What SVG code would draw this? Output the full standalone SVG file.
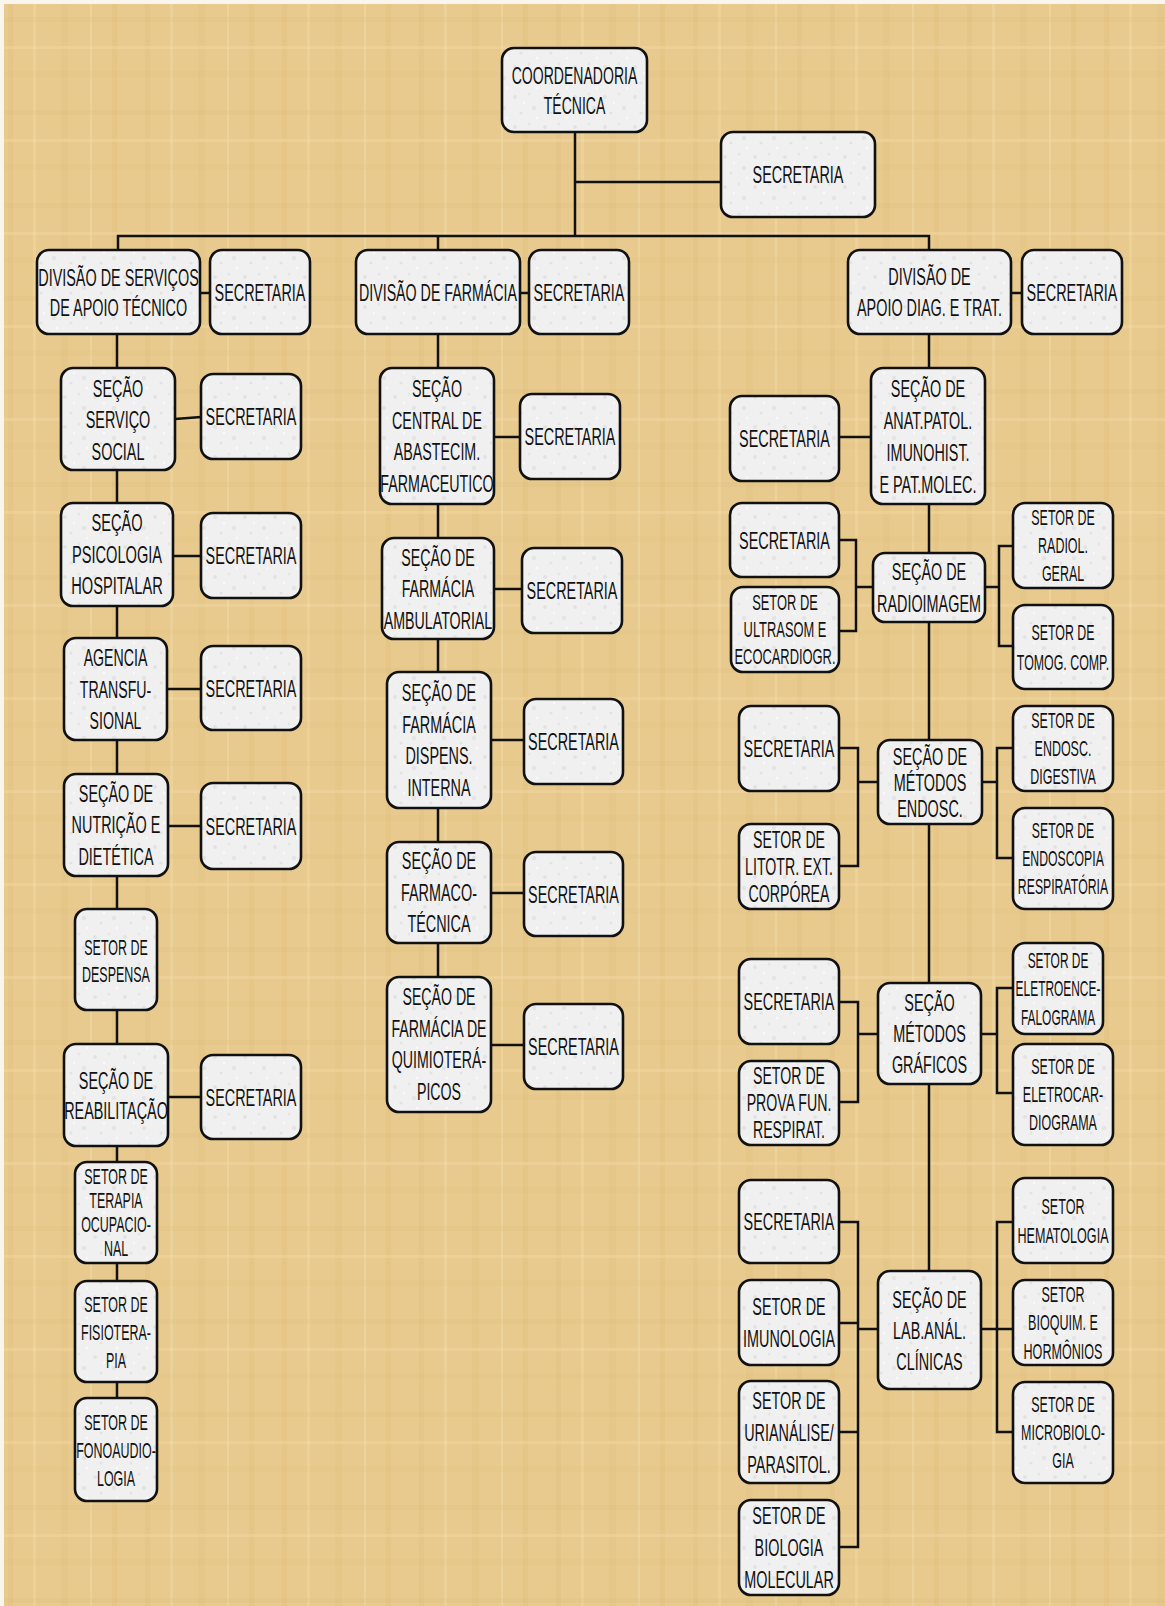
<svg xmlns="http://www.w3.org/2000/svg" width="1165" height="1606" viewBox="0 0 1165 1606">
<defs>
<pattern id="paper" x="0" y="0" width="137" height="93" patternUnits="userSpaceOnUse">
<rect width="137" height="93" fill="#E8CA8E"/>
<rect x="8" y="0" width="5" height="93" fill="#D8B470" opacity="0.22"/>
<rect x="33" y="0" width="3" height="93" fill="#F2DDA9" opacity="0.4"/>
<rect x="61" y="0" width="7" height="93" fill="#DDB977" opacity="0.2"/>
<rect x="90" y="0" width="2" height="93" fill="#F3DFAE" opacity="0.4"/>
<rect x="112" y="0" width="5" height="93" fill="#D6B16C" opacity="0.18"/>
<rect x="0" y="17" width="137" height="5" fill="#D9B673" opacity="0.18"/>
<rect x="0" y="46" width="137" height="3" fill="#F2DCA8" opacity="0.35"/>
<rect x="0" y="71" width="137" height="6" fill="#DBB874" opacity="0.15"/>
</pattern>
<pattern id="marble" x="0" y="0" width="30" height="30" patternUnits="userSpaceOnUse">
<rect width="30" height="30" fill="#F0F0F0"/>
<circle cx="5" cy="7" r="2" fill="#DADADA" opacity="0.6"/>
<circle cx="19" cy="4" r="1.5" fill="#DDDDDD" opacity="0.6"/>
<circle cx="24" cy="18" r="2.2" fill="#D8D8D8" opacity="0.5"/>
<circle cx="11" cy="23" r="1.6" fill="#DBDBDB" opacity="0.6"/>
<circle cx="14" cy="13" r="1.2" fill="#FAFAFA"/>
<circle cx="27" cy="28" r="1.2" fill="#FAFAFA"/>
</pattern>
</defs>
<style>
.box{fill:url(#marble);stroke:#111;stroke-width:2.6}
.t{font-family:"Liberation Sans",Arial,sans-serif;font-size:24px;fill:#111;text-anchor:middle}
.s{font-size:21.5px}
#connectors line,#connectors path{stroke:#111;stroke-width:2.5;fill:none}
</style>
<rect x="0" y="0" width="1165" height="1606" fill="#FAF6EE"/>
<rect x="4" y="4" width="1161" height="1602" fill="url(#paper)"/>

<g id="connectors">
<line x1="575" y1="132" x2="575" y2="236"/>
<line x1="575" y1="182" x2="721" y2="182"/>
<path d="M118 250 V236 H929 V250"/>
<line x1="438" y1="236" x2="438" y2="250"/>
<line x1="200" y1="293" x2="210" y2="293"/>
<line x1="520" y1="293" x2="529" y2="293"/>
<line x1="1011" y1="293" x2="1022" y2="293"/>
<line x1="117" y1="334" x2="117" y2="1398"/>
<line x1="175" y1="419" x2="201" y2="417"/>
<line x1="173" y1="556" x2="201" y2="556"/>
<line x1="167" y1="689" x2="201" y2="689"/>
<line x1="168" y1="826" x2="201" y2="826"/>
<line x1="168" y1="1097" x2="201" y2="1097"/>
<line x1="438" y1="334" x2="438" y2="977"/>
<line x1="494" y1="437" x2="520" y2="437"/>
<line x1="494" y1="589" x2="522" y2="589"/>
<line x1="491" y1="740" x2="524" y2="740"/>
<line x1="491" y1="893" x2="524" y2="893"/>
<line x1="491" y1="1045" x2="524" y2="1045"/>
<line x1="929" y1="334" x2="929" y2="1271"/>
<line x1="839" y1="437" x2="871" y2="437"/>
<path d="M839 540 H856 V631 H839"/>
<line x1="856" y1="587" x2="873" y2="587"/>
<line x1="985" y1="587" x2="999" y2="587"/>
<path d="M1013 546 H999 V646 H1013"/>
<path d="M839 748 H858 V866 H839"/>
<line x1="858" y1="782" x2="878" y2="782"/>
<line x1="982" y1="782" x2="997" y2="782"/>
<path d="M1013 748 H997 V858 H1013"/>
<path d="M839 1002 H858 V1102 H839"/>
<line x1="858" y1="1034" x2="878" y2="1034"/>
<line x1="981" y1="1034" x2="997" y2="1034"/>
<path d="M1013 988 H997 V1093 H1013"/>
<path d="M839 1222 H858 V1547 H839"/>
<line x1="839" y1="1323" x2="858" y2="1323"/>
<line x1="839" y1="1432" x2="858" y2="1432"/>
<line x1="858" y1="1329" x2="878" y2="1329"/>
<line x1="981" y1="1329" x2="997" y2="1329"/>
<path d="M1013 1222 H997 V1432 H1013"/>
<line x1="997" y1="1329" x2="1013" y2="1329"/>
</g>

<g id="coord"><rect class="box" x="502" y="48" width="145" height="84" rx="12"/><g transform="translate(574.5 0) scale(0.585 1)"><text class="t"><tspan x="0" y="84">COORDENADORIA</tspan><tspan x="0" y="114">TÉCNICA</tspan></text></g></g>
<g id="sec-coord"><rect class="box" x="721" y="132" width="154" height="85" rx="12"/><g transform="translate(798 0) scale(0.6 1)"><text class="t"><tspan x="0" y="183.5">SECRETARIA</tspan></text></g></g>

<g id="div-apoio"><rect class="box" x="37" y="250" width="163" height="84" rx="12"/><g transform="translate(118.5 0) scale(0.6 1)"><text class="t"><tspan x="0" y="286">DIVISÃO DE SERVIÇOS</tspan><tspan x="0" y="316">DE APOIO TÉCNICO</tspan></text></g></g>
<g id="sec-div-apoio"><rect class="box" x="210" y="250" width="100" height="84" rx="12"/><g transform="translate(260 0) scale(0.6 1)"><text class="t"><tspan x="0" y="301">SECRETARIA</tspan></text></g></g>
<g id="div-farm"><rect class="box" x="356" y="250" width="164" height="84" rx="12"/><g transform="translate(438 0) scale(0.593 1)"><text class="t"><tspan x="0" y="301">DIVISÃO DE FARMÁCIA</tspan></text></g></g>
<g id="sec-div-farm"><rect class="box" x="529" y="250" width="100" height="84" rx="12"/><g transform="translate(579 0) scale(0.6 1)"><text class="t"><tspan x="0" y="301">SECRETARIA</tspan></text></g></g>
<g id="div-diag"><rect class="box" x="848" y="250" width="163" height="84" rx="12"/><g transform="translate(929.5 0) scale(0.6 1)"><text class="t"><tspan x="0" y="285.5">DIVISÃO DE</tspan><tspan x="0" y="316.5">APOIO DIAG. E TRAT.</tspan></text></g></g>
<g id="sec-div-diag"><rect class="box" x="1022" y="250" width="100" height="84" rx="12"/><g transform="translate(1072 0) scale(0.6 1)"><text class="t"><tspan x="0" y="301">SECRETARIA</tspan></text></g></g>

<g id="sec-servico-social"><rect class="box" x="61" y="368" width="114" height="102" rx="12"/><g transform="translate(118 0) scale(0.6 1)"><text class="t"><tspan x="0" y="397">SEÇÃO</tspan><tspan x="0" y="428.5">SERVIÇO</tspan><tspan x="0" y="460">SOCIAL</tspan></text></g></g>
<g id="secr-servico-social"><rect class="box" x="201" y="374" width="100" height="85" rx="12"/><g transform="translate(251 0) scale(0.6 1)"><text class="t"><tspan x="0" y="425.5">SECRETARIA</tspan></text></g></g>
<g id="sec-psicologia"><rect class="box" x="61" y="503" width="112" height="103" rx="12"/><g transform="translate(117 0) scale(0.61 1)"><text class="t"><tspan x="0" y="531.5">SEÇÃO</tspan><tspan x="0" y="563">PSICOLOGIA</tspan><tspan x="0" y="594.5">HOSPITALAR</tspan></text></g></g>
<g id="secr-psicologia"><rect class="box" x="201" y="513" width="100" height="85" rx="12"/><g transform="translate(251 0) scale(0.6 1)"><text class="t"><tspan x="0" y="564.5">SECRETARIA</tspan></text></g></g>
<g id="agencia"><rect class="box" x="64" y="638" width="103" height="102" rx="12"/><g transform="translate(115.5 0) scale(0.59 1)"><text class="t"><tspan x="0" y="666.5">AGENCIA</tspan><tspan x="0" y="698">TRANSFU-</tspan><tspan x="0" y="729.5">SIONAL</tspan></text></g></g>
<g id="secr-agencia"><rect class="box" x="201" y="646" width="100" height="84" rx="12"/><g transform="translate(251 0) scale(0.6 1)"><text class="t"><tspan x="0" y="697">SECRETARIA</tspan></text></g></g>
<g id="sec-nutricao"><rect class="box" x="64" y="774" width="104" height="102" rx="12"/><g transform="translate(116 0) scale(0.6 1)"><text class="t"><tspan x="0" y="802">SEÇÃO DE</tspan><tspan x="0" y="833.5">NUTRIÇÃO E</tspan><tspan x="0" y="865">DIETÉTICA</tspan></text></g></g>
<g id="secr-nutricao"><rect class="box" x="201" y="783" width="100" height="86" rx="12"/><g transform="translate(251 0) scale(0.6 1)"><text class="t"><tspan x="0" y="835">SECRETARIA</tspan></text></g></g>
<g id="set-despensa"><rect class="box" x="75" y="909" width="82" height="101" rx="12"/><g transform="translate(116 0) scale(0.58 1)"><text class="t s"><tspan x="0" y="955">SETOR DE</tspan><tspan x="0" y="982">DESPENSA</tspan></text></g></g>
<g id="sec-reabilitacao"><rect class="box" x="64" y="1044" width="104" height="102" rx="12"/><g transform="translate(116 0) scale(0.6 1)"><text class="t"><tspan x="0" y="1089">SEÇÃO DE</tspan><tspan x="0" y="1119">REABILITAÇÃO</tspan></text></g></g>
<g id="secr-reabilitacao"><rect class="box" x="201" y="1055" width="100" height="84" rx="12"/><g transform="translate(251 0) scale(0.6 1)"><text class="t"><tspan x="0" y="1106">SECRETARIA</tspan></text></g></g>
<g id="set-terapia"><rect class="box" x="75" y="1162" width="82" height="101" rx="12"/><g transform="translate(116 0) scale(0.58 1)"><text class="t s"><tspan x="0" y="1184.5">SETOR DE</tspan><tspan x="0" y="1208.5">TERAPIA</tspan><tspan x="0" y="1232.5">OCUPACIO-</tspan><tspan x="0" y="1256.5">NAL</tspan></text></g></g>
<g id="set-fisioterapia"><rect class="box" x="75" y="1281" width="82" height="101" rx="12"/><g transform="translate(116 0) scale(0.58 1)"><text class="t s"><tspan x="0" y="1312.5">SETOR DE</tspan><tspan x="0" y="1340.5">FISIOTERA-</tspan><tspan x="0" y="1368.5">PIA</tspan></text></g></g>
<g id="set-fono"><rect class="box" x="75" y="1398" width="82" height="103" rx="12"/><g transform="translate(116 0) scale(0.58 1)"><text class="t s"><tspan x="0" y="1430.5">SETOR DE</tspan><tspan x="0" y="1458.5">FONOAUDIO-</tspan><tspan x="0" y="1486.5">LOGIA</tspan></text></g></g>

<g id="sec-central"><rect class="box" x="380" y="368" width="114" height="136" rx="12"/><g transform="translate(437 0) scale(0.595 1)"><text class="t"><tspan x="0" y="397.5">SEÇÃO</tspan><tspan x="0" y="429">CENTRAL DE</tspan><tspan x="0" y="460.5">ABASTECIM.</tspan><tspan x="0" y="492">FARMACEUTICO</tspan></text></g></g>
<g id="secr-central"><rect class="box" x="520" y="394" width="100" height="85" rx="12"/><g transform="translate(570 0) scale(0.6 1)"><text class="t"><tspan x="0" y="445.5">SECRETARIA</tspan></text></g></g>
<g id="sec-ambulatorial"><rect class="box" x="382" y="538" width="112" height="101" rx="12"/><g transform="translate(438 0) scale(0.593 1)"><text class="t"><tspan x="0" y="566">SEÇÃO DE</tspan><tspan x="0" y="597.5">FARMÁCIA</tspan><tspan x="0" y="629">AMBULATORIAL</tspan></text></g></g>
<g id="secr-ambulatorial"><rect class="box" x="522" y="548" width="100" height="85" rx="12"/><g transform="translate(572 0) scale(0.6 1)"><text class="t"><tspan x="0" y="599.5">SECRETARIA</tspan></text></g></g>
<g id="sec-dispens"><rect class="box" x="387" y="672" width="104" height="136" rx="12"/><g transform="translate(439 0) scale(0.6 1)"><text class="t"><tspan x="0" y="701.5">SEÇÃO DE</tspan><tspan x="0" y="733">FARMÁCIA</tspan><tspan x="0" y="764.5">DISPENS.</tspan><tspan x="0" y="796">INTERNA</tspan></text></g></g>
<g id="secr-dispens"><rect class="box" x="524" y="699" width="99" height="85" rx="12"/><g transform="translate(573.5 0) scale(0.6 1)"><text class="t"><tspan x="0" y="750.5">SECRETARIA</tspan></text></g></g>
<g id="sec-farmacotecnica"><rect class="box" x="387" y="842" width="104" height="101" rx="12"/><g transform="translate(439 0) scale(0.6 1)"><text class="t"><tspan x="0" y="869.5">SEÇÃO DE</tspan><tspan x="0" y="901">FARMACO-</tspan><tspan x="0" y="932.5">TÉCNICA</tspan></text></g></g>
<g id="secr-farmacotecnica"><rect class="box" x="524" y="852" width="99" height="84" rx="12"/><g transform="translate(573.5 0) scale(0.6 1)"><text class="t"><tspan x="0" y="903">SECRETARIA</tspan></text></g></g>
<g id="sec-quimio"><rect class="box" x="387" y="977" width="104" height="135" rx="12"/><g transform="translate(439 0) scale(0.59 1)"><text class="t"><tspan x="0" y="1005.5">SEÇÃO DE</tspan><tspan x="0" y="1037">FARMÁCIA DE</tspan><tspan x="0" y="1068.5">QUIMIOTERÁ-</tspan><tspan x="0" y="1100">PICOS</tspan></text></g></g>
<g id="secr-quimio"><rect class="box" x="524" y="1004" width="99" height="85" rx="12"/><g transform="translate(573.5 0) scale(0.6 1)"><text class="t"><tspan x="0" y="1055.5">SECRETARIA</tspan></text></g></g>

<g id="sec-anatpatol"><rect class="box" x="871" y="368" width="114" height="136" rx="12"/><g transform="translate(928 0) scale(0.6 1)"><text class="t"><tspan x="0" y="397">SEÇÃO DE</tspan><tspan x="0" y="429">ANAT.PATOL.</tspan><tspan x="0" y="461">IMUNOHIST.</tspan><tspan x="0" y="493">E PAT.MOLEC.</tspan></text></g></g>
<g id="secr-anatpatol"><rect class="box" x="730" y="396" width="109" height="85" rx="12"/><g transform="translate(784.5 0) scale(0.6 1)"><text class="t"><tspan x="0" y="447.5">SECRETARIA</tspan></text></g></g>
<g id="sec-radioimagem"><rect class="box" x="873" y="553" width="112" height="69" rx="12"/><g transform="translate(929 0) scale(0.6 1)"><text class="t"><tspan x="0" y="580.5">SEÇÃO DE</tspan><tspan x="0" y="612.5">RADIOIMAGEM</tspan></text></g></g>
<g id="secr-radioimagem"><rect class="box" x="730" y="503" width="109" height="74" rx="12"/><g transform="translate(784.5 0) scale(0.6 1)"><text class="t"><tspan x="0" y="549">SECRETARIA</tspan></text></g></g>
<g id="set-ultrasom"><rect class="box" x="731" y="587" width="108" height="85" rx="12"/><g transform="translate(785 0) scale(0.6 1)"><text class="t s"><tspan x="0" y="610">SETOR DE</tspan><tspan x="0" y="637">ULTRASOM E</tspan><tspan x="0" y="664">ECOCARDIOGR.</tspan></text></g></g>
<g id="set-radiol"><rect class="box" x="1013" y="503" width="100" height="85" rx="12"/><g transform="translate(1063 0) scale(0.58 1)"><text class="t s"><tspan x="0" y="525">SETOR DE</tspan><tspan x="0" y="553">RADIOL.</tspan><tspan x="0" y="581">GERAL</tspan></text></g></g>
<g id="set-tomog"><rect class="box" x="1013" y="605" width="100" height="84" rx="12"/><g transform="translate(1063 0) scale(0.576 1)"><text class="t s"><tspan x="0" y="640">SETOR DE</tspan><tspan x="0" y="670">TOMOG. COMP.</tspan></text></g></g>

<g id="secr-endosc"><rect class="box" x="739" y="706" width="100" height="85" rx="12"/><g transform="translate(789 0) scale(0.6 1)"><text class="t"><tspan x="0" y="757.5">SECRETARIA</tspan></text></g></g>
<g id="set-litotr"><rect class="box" x="739" y="824" width="100" height="85" rx="12"/><g transform="translate(789 0) scale(0.59 1)"><text class="t"><tspan x="0" y="848">SETOR DE</tspan><tspan x="0" y="875">LITOTR. EXT.</tspan><tspan x="0" y="902">CORPÓREA</tspan></text></g></g>
<g id="sec-endosc"><rect class="box" x="878" y="740" width="104" height="84" rx="12"/><g transform="translate(930 0) scale(0.6 1)"><text class="t"><tspan x="0" y="765">SEÇÃO DE</tspan><tspan x="0" y="791">MÉTODOS</tspan><tspan x="0" y="817">ENDOSC.</tspan></text></g></g>
<g id="set-digestiva"><rect class="box" x="1013" y="706" width="100" height="85" rx="12"/><g transform="translate(1063 0) scale(0.58 1)"><text class="t s"><tspan x="0" y="728">SETOR DE</tspan><tspan x="0" y="756">ENDOSC.</tspan><tspan x="0" y="784">DIGESTIVA</tspan></text></g></g>
<g id="set-respiratoria"><rect class="box" x="1013" y="808" width="100" height="101" rx="12"/><g transform="translate(1063 0) scale(0.57 1)"><text class="t s"><tspan x="0" y="838">SETOR DE</tspan><tspan x="0" y="866">ENDOSCOPIA</tspan><tspan x="0" y="894">RESPIRATÓRIA</tspan></text></g></g>

<g id="secr-graficos"><rect class="box" x="739" y="959" width="100" height="85" rx="12"/><g transform="translate(789 0) scale(0.6 1)"><text class="t"><tspan x="0" y="1010.5">SECRETARIA</tspan></text></g></g>
<g id="set-prova"><rect class="box" x="739" y="1061" width="100" height="84" rx="12"/><g transform="translate(789 0) scale(0.59 1)"><text class="t"><tspan x="0" y="1084.5">SETOR DE</tspan><tspan x="0" y="1111.5">PROVA  FUN.</tspan><tspan x="0" y="1138.5">RESPIRAT.</tspan></text></g></g>
<g id="sec-graficos"><rect class="box" x="878" y="983" width="103" height="101" rx="12"/><g transform="translate(929.5 0) scale(0.6 1)"><text class="t"><tspan x="0" y="1011.5">SEÇÃO</tspan><tspan x="0" y="1042.5">MÉTODOS</tspan><tspan x="0" y="1073.5">GRÁFICOS</tspan></text></g></g>
<g id="set-eeg"><rect class="box" x="1013" y="943" width="90" height="91" rx="12"/><g transform="translate(1058 0) scale(0.555 1)"><text class="t s"><tspan x="0" y="968">SETOR DE</tspan><tspan x="0" y="996.5">ELETROENCE-</tspan><tspan x="0" y="1025">FALOGRAMA</tspan></text></g></g>
<g id="set-ecg"><rect class="box" x="1013" y="1044" width="100" height="101" rx="12"/><g transform="translate(1063 0) scale(0.58 1)"><text class="t s"><tspan x="0" y="1074">SETOR DE</tspan><tspan x="0" y="1102">ELETROCAR-</tspan><tspan x="0" y="1130">DIOGRAMA</tspan></text></g></g>

<g id="secr-lab"><rect class="box" x="739" y="1180" width="100" height="83" rx="12"/><g transform="translate(789 0) scale(0.6 1)"><text class="t"><tspan x="0" y="1230.5">SECRETARIA</tspan></text></g></g>
<g id="set-imunologia"><rect class="box" x="739" y="1280" width="100" height="85" rx="12"/><g transform="translate(789 0) scale(0.6 1)"><text class="t"><tspan x="0" y="1315.5">SETOR DE</tspan><tspan x="0" y="1347.5">IMUNOLOGIA</tspan></text></g></g>
<g id="set-urianalise"><rect class="box" x="739" y="1381" width="100" height="102" rx="12"/><g transform="translate(789 0) scale(0.6 1)"><text class="t"><tspan x="0" y="1409">SETOR DE</tspan><tspan x="0" y="1441">URIANÁLISE/</tspan><tspan x="0" y="1473">PARASITOL.</tspan></text></g></g>
<g id="set-biologia"><rect class="box" x="739" y="1500" width="100" height="95" rx="12"/><g transform="translate(789 0) scale(0.6 1)"><text class="t"><tspan x="0" y="1524.5">SETOR DE</tspan><tspan x="0" y="1556.5">BIOLOGIA</tspan><tspan x="0" y="1588.5">MOLECULAR</tspan></text></g></g>
<g id="sec-lab"><rect class="box" x="878" y="1271" width="103" height="118" rx="12"/><g transform="translate(929.5 0) scale(0.6 1)"><text class="t"><tspan x="0" y="1308">SEÇÃO DE</tspan><tspan x="0" y="1339">LAB.ANÁL.</tspan><tspan x="0" y="1370">CLÍNICAS</tspan></text></g></g>
<g id="set-hematologia"><rect class="box" x="1013" y="1178" width="100" height="85" rx="12"/><g transform="translate(1063 0) scale(0.585 1)"><text class="t s"><tspan x="0" y="1214">SETOR</tspan><tspan x="0" y="1243">HEMATOLOGIA</tspan></text></g></g>
<g id="set-bioquim"><rect class="box" x="1013" y="1280" width="100" height="85" rx="12"/><g transform="translate(1063 0) scale(0.585 1)"><text class="t s"><tspan x="0" y="1302">SETOR</tspan><tspan x="0" y="1330.5">BIOQUIM. E</tspan><tspan x="0" y="1359">HORMÔNIOS</tspan></text></g></g>
<g id="set-microbiologia"><rect class="box" x="1013" y="1382" width="100" height="101" rx="12"/><g transform="translate(1063 0) scale(0.58 1)"><text class="t s"><tspan x="0" y="1412">SETOR DE</tspan><tspan x="0" y="1440">MICROBIOLO-</tspan><tspan x="0" y="1468">GIA</tspan></text></g></g>
</svg>
